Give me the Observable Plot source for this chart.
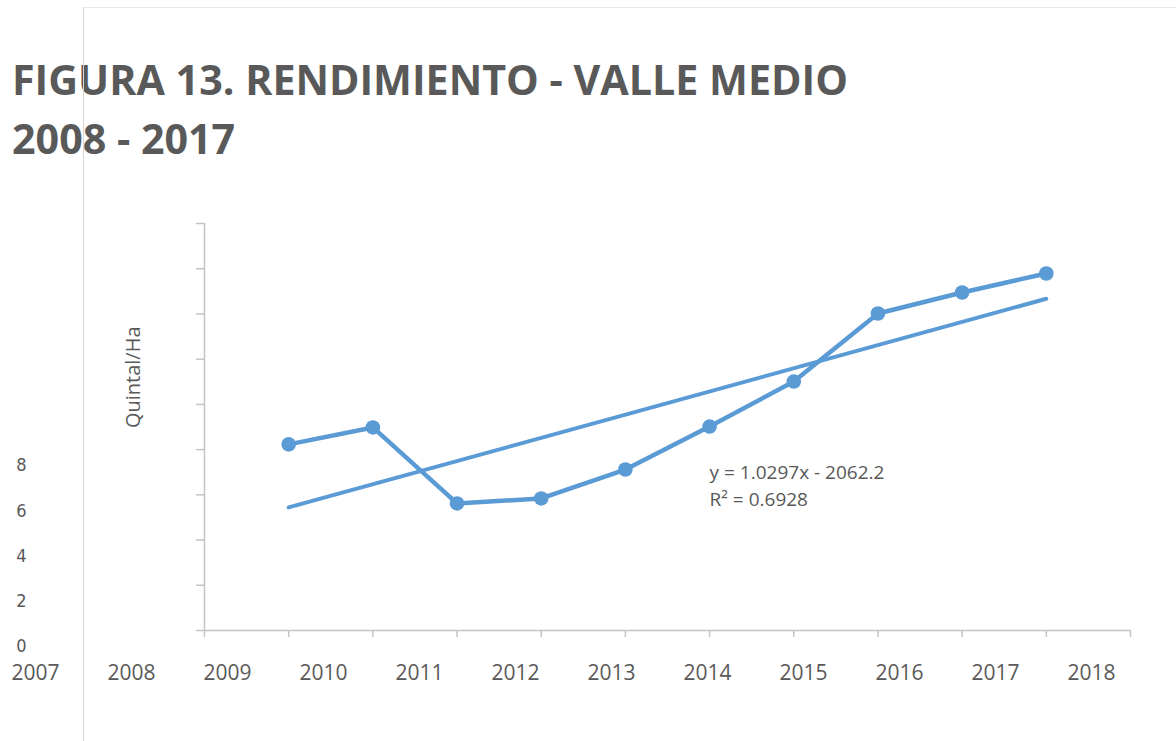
<!DOCTYPE html>
<html>
<head>
<meta charset="utf-8">
<script src="https://cdn.jsdelivr.net/npm/d3@7"></script>
<script src="https://cdn.jsdelivr.net/npm/@observablehq/plot@0.6"></script>
<style>
  html, body { margin: 0; padding: 0; background: #ffffff; }
  body { width: 1176px; height: 741px; position: relative; overflow: hidden; font-family: "Open Sans", sans-serif; }
  #title { position: absolute; left: 12px; top: 49px; font-size: 42px; line-height: 59px; font-weight: 700; color: #595959; transform-origin: 0 0; white-space: nowrap; }
  #title span { display: inline-block; }
  #chart { position: absolute; left: 0; top: 200px; }
  #xlabels { position: absolute; left: 0; top: 658px; }
  #frame { position: absolute; left: 83px; top: 7px; right: 0; bottom: 0; border-left: 1px solid #d6d6d6; border-top: 1px solid #e8e8e8; pointer-events: none; }
</style>
</head>
<body>
<div id="title"><span id="t1">FIGURA 13. RENDIMIENTO - VALLE MEDIO</span><br><span id="t2">2008 - 2017</span></div>
<div id="chart"></div>
<div id="xlabels"></div>
<div id="frame"></div>
<script>
// ---- data ----
const years = [2008, 2009, 2010, 2011, 2012, 2013, 2014, 2015, 2016, 2017];
const rendimiento = [8.23, 8.98, 5.62, 5.84, 7.12, 9.02, 11.01, 14.02, 14.95, 15.79];
const xTicks = [2007, 2008, 2009, 2010, 2011, 2012, 2013, 2014, 2015, 2016, 2017, 2018];
const yTicks = [0, 2, 4, 6, 8, 10, 12, 14, 16, 18];
const yTickLabels = [0, 2, 4, 6, 8];
const trendLabel = ["y = 1.0297x - 2062.2", "R² = 0.6928"];
const trendLabelAt = [2013, 6.48];
const axisTitle = "Quintal/Ha";
const axisTitleAt = [2007, 11.2];

const data = years.map((yr, i) => ({ year: yr, value: rendimiento[i] }));

const blue = "#5b9bd5";
const axisGray = "#c4c4c4";
const textGray = "#595959";

// ---- main chart ----
const chart = Plot.plot({
  width: 1176,
  height: 541,
  marginLeft: 204,
  marginRight: 46,
  marginTop: 23,
  marginBottom: 111,
  x: { domain: [2007, 2018], axis: null, label: null },
  y: { domain: [0, 18], axis: null, label: null },
  style: { fontFamily: "'Open Sans', sans-serif", color: textGray, background: "transparent" },
  marks: [
    Plot.ruleX([2007], { y1: 0, y2: 18, stroke: axisGray, strokeWidth: 1.5 }),
    Plot.ruleY([0], { x1: 2007, x2: 2018, stroke: axisGray, strokeWidth: 1.5 }),
    Plot.axisY(yTicks, { anchor: "left", label: null, tickSize: 8, tickFormat: () => "", stroke: axisGray, strokeWidth: 1.5 }),
    Plot.axisX(xTicks, { anchor: "bottom", label: null, tickSize: 7, tickFormat: () => "", stroke: axisGray, strokeWidth: 1.5 }),
    Plot.axisY(yTickLabels, {
      anchor: "left", label: null, tickSize: 0, dx: -169, dy: 16,
      fontSize: 19, fill: textGray, tickFormat: d => String(d)
    }),
    Plot.text([axisTitle], {
      x: () => axisTitleAt[0], y: () => axisTitleAt[1], dx: -71,
      rotate: -90, fontSize: 20, fill: textGray, text: d => d
    }),
    Plot.linearRegressionY(data, { x: "year", y: "value", stroke: blue, strokeWidth: 4, ci: 0, strokeLinecap: "round" }),
    Plot.line(data, { x: "year", y: "value", stroke: blue, strokeWidth: 4.5, strokeLinejoin: "round" }),
    Plot.dot(data, { x: "year", y: "value", r: 7.3, fill: blue, stroke: "none" }),
    Plot.text([trendLabel.join("\n")], {
      x: () => trendLabelAt[0], y: () => trendLabelAt[1], text: d => d,
      textAnchor: "start", lineAnchor: "middle", lineHeight: 1.42,
      fontSize: 19, fill: textGray
    })
  ]
});
document.getElementById("chart").appendChild(chart);

// narrow face for the displaced y tick labels
const labelSet = new Set(yTickLabels.map(String));
d3.select(chart).selectAll("text")
  .filter(function () { return labelSet.has(this.textContent.trim()); })
  .style("font-family", "'DejaVu Sans Condensed', 'DejaVu Sans', sans-serif")
  .style("font-stretch", "condensed")
  .style("font-size", "18px");

// ---- category labels (drawn on their own scale, as in the reference) ----
const xlab = Plot.plot({
  width: 1176,
  height: 30,
  marginLeft: 35,
  marginRight: 85,
  marginTop: 0,
  marginBottom: 0,
  x: { domain: [2007, 2018], axis: null, label: null },
  style: { fontFamily: "'Open Sans', sans-serif", color: textGray, background: "transparent" },
  marks: [
    Plot.text(xTicks, { x: d => d, text: d => String(d), frameAnchor: "middle", fontSize: 21, fill: textGray })
  ]
});
document.getElementById("xlabels").appendChild(xlab);

// ---- fit title width ----
const t1 = document.getElementById("t1");
const w = t1.getBoundingClientRect().width;
const k = 836 / w;
document.getElementById("title").style.transform = `scaleX(${k})`;
</script>
</body>
</html>
